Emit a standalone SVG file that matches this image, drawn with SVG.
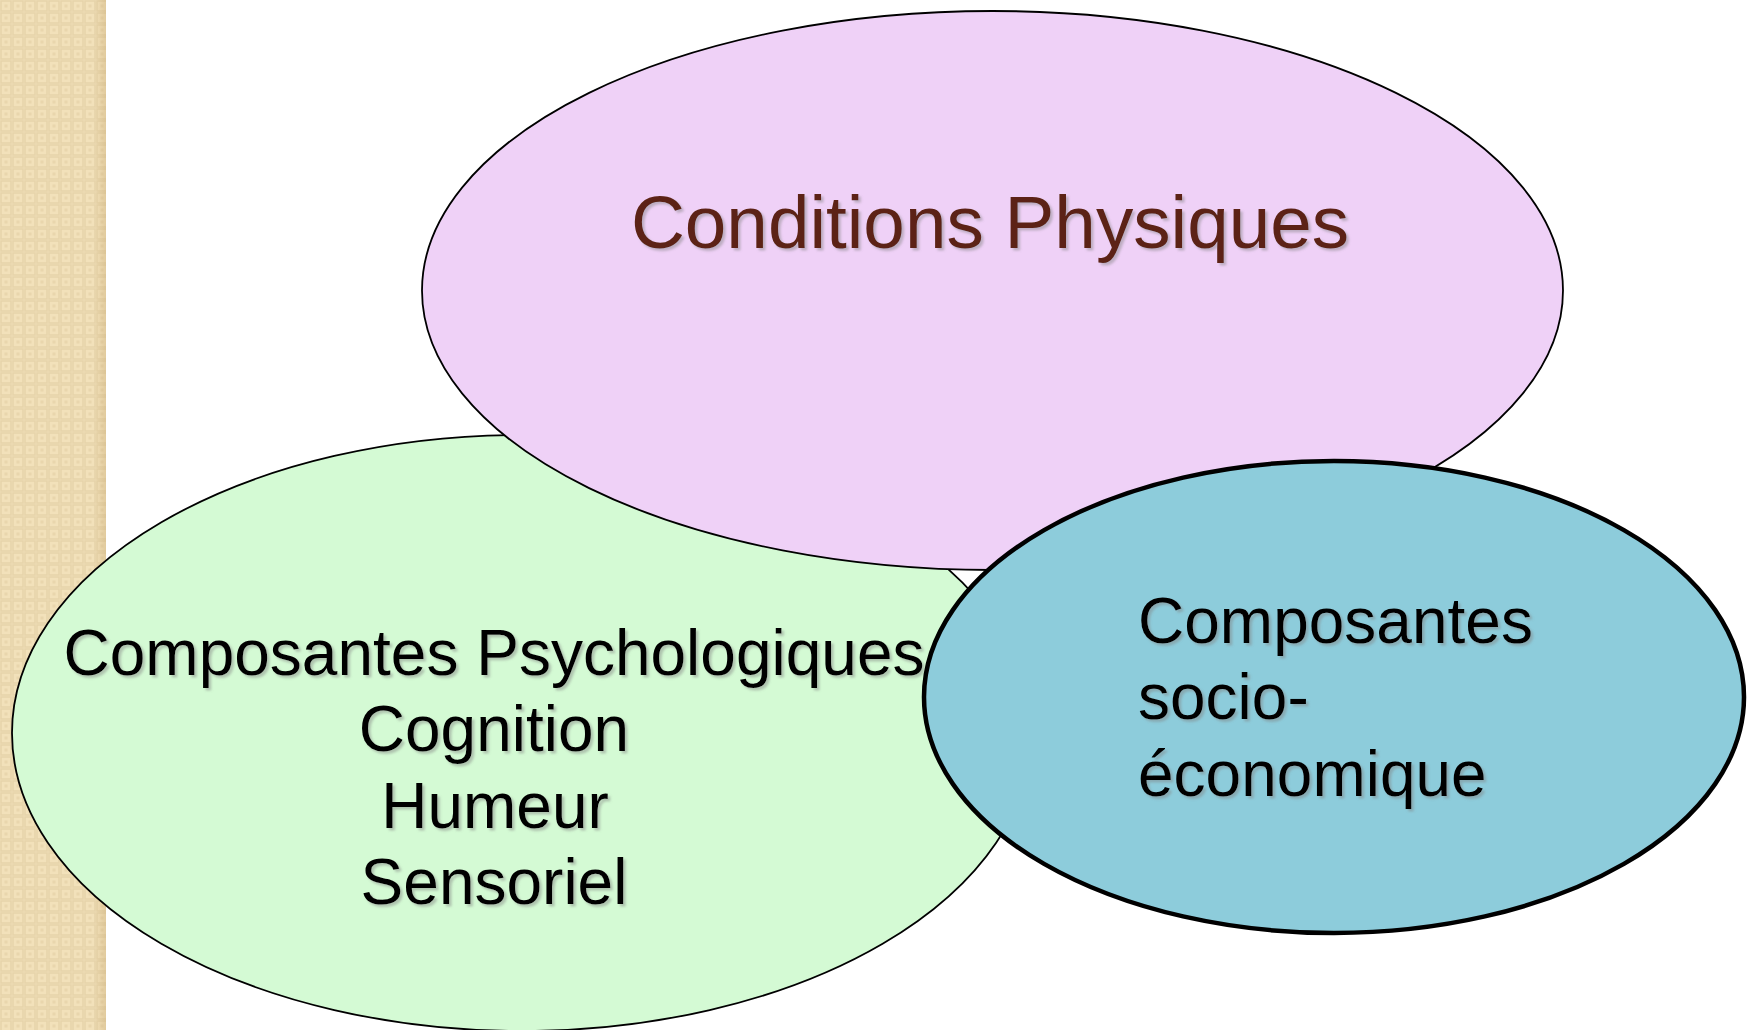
<svg xmlns="http://www.w3.org/2000/svg" width="1754" height="1030" viewBox="0 0 1754 1030">
  <defs>
    <pattern id="weave" x="0" y="0" width="12" height="12" patternUnits="userSpaceOnUse">
      <rect width="12" height="12" fill="#F2E1BA"/>
      <rect x="1" y="1" width="10" height="10" fill="none" stroke="#E7D4AA" stroke-width="1.5"/>
      <rect x="4.5" y="4.5" width="3" height="3" fill="#E9D6AD"/>
    </pattern>
    <linearGradient id="edge" x1="0" y1="0" x2="1" y2="0">
      <stop offset="0" stop-color="#C8A870" stop-opacity="0"/>
      <stop offset="1" stop-color="#C8A870" stop-opacity="0.4"/>
    </linearGradient>
    <filter id="shadow" x="-5%" y="-20%" width="110%" height="140%">
      <feDropShadow dx="2.5" dy="2.5" stdDeviation="1.2" flood-color="#808080" flood-opacity="0.45"/>
    </filter>
  </defs>
  <style>
    .lbl { font-family: "Liberation Sans", Arial, sans-serif; font-size: 64px; fill: #000000; filter: url(#shadow); }
    .mid { text-anchor: middle; }
    .title { font-family: "Liberation Sans", Arial, sans-serif; font-size: 74.7px; fill: #5C2414; filter: url(#shadow); }
    .thin { stroke: #000000; stroke-width: 1.8; }
  </style>
  <rect width="1754" height="1030" fill="#FFFFFF"/>
  <g id="side-band">
    <rect x="0" y="0" width="106" height="1030" fill="url(#weave)"/>
    <rect x="94" y="0" width="12" height="1030" fill="url(#edge)"/>
  </g>
  <g id="connectors"></g>
  <g id="psychologiques">
    <ellipse cx="522" cy="733" rx="510" ry="298" fill="#D4FAD4" class="thin"/>
    <text class="lbl mid" x="494" y="675">Composantes Psychologiques</text>
    <text class="lbl mid" x="494" y="751">Cognition</text>
    <text class="lbl mid" x="495" y="828">Humeur</text>
    <text class="lbl mid" x="494" y="904">Sensoriel</text>
  </g>
  <g id="physiques">
    <ellipse cx="992.5" cy="290.5" rx="570.5" ry="279.5" fill="#EFD1F7" class="thin"/>
    <text class="title" x="990" y="248" text-anchor="middle">Conditions Physiques</text>
  </g>
  <g id="socio-economique">
    <ellipse cx="1334" cy="697" rx="410" ry="236" fill="#8DCCDB" stroke="#000000" stroke-width="4.5"/>
    <text class="lbl" x="1138" y="643">Composantes</text>
    <text class="lbl" x="1138" y="719">socio-</text>
    <text class="lbl" x="1138" y="796">économique</text>
  </g>
</svg>
